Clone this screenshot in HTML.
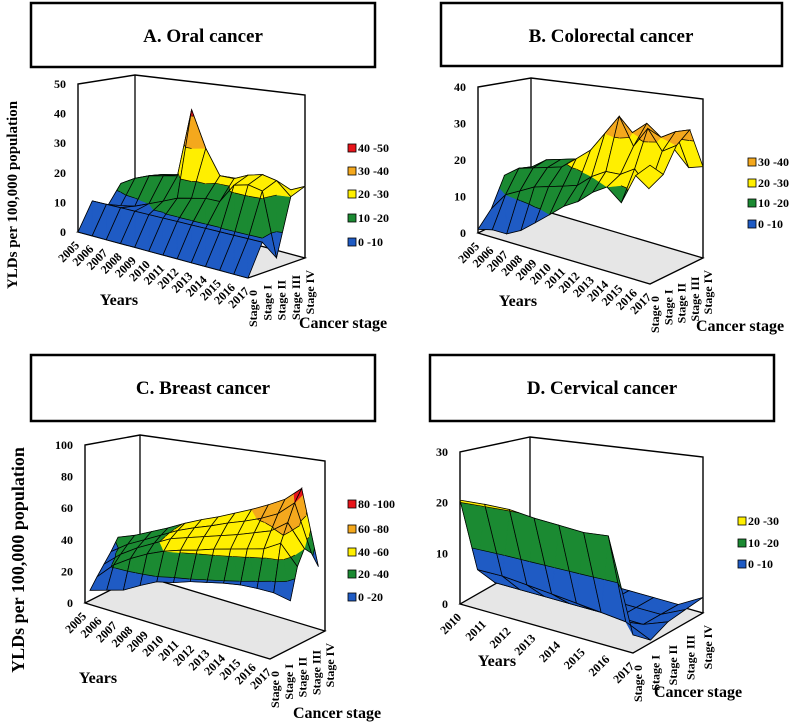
<!DOCTYPE html>
<html><head><meta charset="utf-8">
<style>
html,body{margin:0;padding:0;background:#fff;}
svg{display:block;font-family:"Liberation Serif",serif;font-weight:bold;}
</style></head>
<body>
<svg id="fig" width="789" height="722" viewBox="0 0 789 722" xmlns="http://www.w3.org/2000/svg">
  <rect x="31" y="3" width="344" height="64" fill="#fff" stroke="#000" stroke-width="2.5"/>
  <text x="203" y="42" font-size="19" text-anchor="middle">A.  Oral cancer</text>
  <rect x="441" y="3" width="341" height="63" fill="#fff" stroke="#000" stroke-width="2.5"/>
  <text x="611" y="42" font-size="19" text-anchor="middle">B. Colorectal cancer</text>
  <rect x="31" y="355" width="344" height="66" fill="#fff" stroke="#000" stroke-width="2.5"/>
  <text x="203" y="394" font-size="19" text-anchor="middle">C. Breast cancer</text>
  <rect x="430" y="355" width="344" height="66" fill="#fff" stroke="#000" stroke-width="2.5"/>
  <text x="602" y="394" font-size="19" text-anchor="middle">D. Cervical cancer</text>
  <text transform="translate(17,195) rotate(-90)" font-size="15" text-anchor="middle">YLDs per 100,000 population</text>
  <text transform="translate(24,560) rotate(-90)" font-size="18" text-anchor="middle">YLDs per 100,000 population</text>
</svg>
<script>
const yearsFull = ["2005","2006","2007","2008","2009","2010","2011","2012","2013","2014","2015","2016","2017"];
const yearsCervical = ["2010","2011","2012","2013","2014","2015","2016","2017"];
const stageLabels = ["Stage 0","Stage I","Stage II","Stage III","Stage IV"];

// values[stage][year]
const oralValues = [
  [0,0,0,0,0,0,0,0,0,0,0,0,0],
  [9,9,9,9,9,9,9,9,9,9,9,9,9],
  [5,7,8,10,12,14,15,16,16,22,23,22,3],
  [12,15,17,18,19,42,30,22,22,24,25,24,20],
  [10,14,16,17,18,19,19,20,20,20,21,20,22]
];
const colorectalValues = [
  [1,2,2,4,7,10,13,15,18,20,17,24,27],
  [5,10,12,14,15,16,17,20,22,22,24,20,24],
  [13,16,17,18,19,22,25,30,35,28,33,28,30],
  [10,15,18,19,20,21,24,28,30,33,30,32,33],
  [2,8,12,14,15,16,18,20,22,24,26,22,23]
];
const breastValues = [
  [3,4,5,11,16,16,18,18,18,17,14,10,2],
  [8,22,30,36,40,42,43,45,46,47,48,55,30],
  [12,24,32,38,44,46,48,50,52,55,58,68,40],
  [16,25,31,37,43,47,50,54,57,61,67,80,25],
  [22,25,30,35,41,46,50,55,60,66,73,86,0]
];
const cervicalValues = [
  [20.5,20.5,20.3,19.5,19,18.5,18.7,3],
  [5,5,4.5,4,3.5,3,2.5,0.5],
  [0.3,0.3,0.3,0.3,0.3,0.3,0.3,2],
  [0.3,0.3,0.3,0.3,0.3,0.3,0.3,2.5],
  [0.3,0.3,0.3,0.3,0.3,0.3,0.3,3]
];
const oralBands = ["0 -10","10 -20","20 -30","30 -40","40 -50"];
const colorectalBands = ["0 -10","10 -20","20 -30","30 -40"];
const breastBands = ["0 -20","20 -40","40 -60","60 -80","80 -100"];
const cervicalBands = ["0 -10","10 -20","20 -30"];
const oralTicks = [0,10,20,30,40,50];
const colorectalTicks = [0,10,20,30,40];
const breastTicks = [0,20,40,60,80,100];
const cervicalTicks = [0,10,20,30];

const COLORS = ["#1f5bc4","#1b8a32","#ffef00","#f4a81d","#e8141a"];
const NS = "http://www.w3.org/2000/svg";
const svg = document.getElementById('fig');
function mk(tag, attrs, parent){const e=document.createElementNS(NS,tag);for(const k in attrs)e.setAttribute(k,attrs[k]);(parent||svg).appendChild(e);return e;}

function clip(poly,t,above){const out=[];for(let k=0;k<poly.length;k++){const a=poly[k],b=poly[(k+1)%poly.length];const ia=above?a[2]>=t:a[2]<=t;const ib=above?b[2]>=t:b[2]<=t;if(ia)out.push(a);if(ia!==ib){const u=(t-a[2])/(b[2]-a[2]);out.push([a[0]+u*(b[0]-a[0]),a[1]+u*(b[1]-a[1]),t]);}}return out;}

function drawPanel(cfg){
  const g = mk('g',{});
  
  
  const n = cfg.years.length, ns = 5;
  const yv=[(cfg.yEnd[0]-cfg.O[0])/(n-1),(cfg.yEnd[1]-cfg.O[1])/(n-1)];
  const sv=[cfg.sVec[0]/(ns-1),cfg.sVec[1]/(ns-1)];
  const P=(i,s,z)=>{const zk=(cfg.zpx+cfg.pa*i/(n-1)-cfg.pb*s/4)/cfg.zmax;
    return [cfg.O[0]+i*yv[0]+s*sv[0], cfg.O[1]+i*yv[1]+s*sv[1]-z*zk];};
  const S = cfg.surf ? (i,s,z)=>[cfg.surf.O[0]+i*cfg.surf.dy[0]+s*cfg.surf.ds[0], cfg.surf.O[1]+i*cfg.surf.dy[1]+s*cfg.surf.ds[1]-z*cfg.surf.k] : P;
  const pts=a=>a.map(p=>p[0].toFixed(1)+','+p[1].toFixed(1)).join(' ');
  const floor = mk('polygon',{points:pts([P(0,0,0),P(n-1,0,0),P(n-1,4,0),P(0,4,0)]),fill:'#e6e6e6',stroke:'#000','stroke-width':1.3},g);
  
  
  const wall = mk('polyline',{points:pts([P(0,0,0),P(0,0,cfg.zmax),P(0,4,cfg.zmax),P(n-1,4,cfg.zmax),P(n-1,4,0)]),fill:'none',stroke:'#000','stroke-width':1.4},g);
  
  
  const bl = mk('line',{x1:P(0,4,0)[0],y1:P(0,4,0)[1],x2:P(0,4,cfg.zmax)[0],y2:P(0,4,cfg.zmax)[1],stroke:'#000','stroke-width':1.3},g);
  
  
  cfg.ticks.forEach(t=>{const p=P(0,0,t);const tx=mk('text',{x:p[0]-12,y:p[1]+4,'font-size':12,'text-anchor':'end'},g);tx.textContent=t;
    
    });
  const th = cfg.bands.map((b,k)=>k*cfg.bandStep);
  const V = cfg.values;
  const surf = mk('g',{},g);
  
  
  for(let s=ns-2;s>=0;s--){
    for(let i=0;i<n-1;i++){
      const a=[i,s,V[s][i]],b=[i+1,s,V[s][i+1]],c=[i+1,s+1,V[s+1][i+1]],d=[i,s+1,V[s+1][i]];
      const tris=[[d,c,b],[a,d,b]];
      tris.forEach(tri=>{
        for(let k=0;k<cfg.bands.length;k++){
          let poly=clip(tri,th[k],true);
          if(k<cfg.bands.length-1) poly=clip(poly,th[k]+cfg.bandStep,false);
          if(poly.length>=3){
            const pp=mk('polygon',{points:pts(poly.map(q=>S(q[0],q[1],q[2]))),fill:COLORS[k],stroke:COLORS[k],'stroke-width':0.6,'stroke-linejoin':'round'},surf);
            
            
          }
        }
        for(let k=1;k<cfg.bands.length;k++){
          const t=th[k];const cr=[];
          for(let e=0;e<3;e++){const p=tri[e],q=tri[(e+1)%3];if((p[2]-t)*(q[2]-t)<0){const u=(t-p[2])/(q[2]-p[2]);cr.push([p[0]+u*(q[0]-p[0]),p[1]+u*(q[1]-p[1]),t]);}}
          if(cr.length===2){const p1=S(...cr[0]),p2=S(...cr[1]);const ln=mk('line',{x1:p1[0],y1:p1[1],x2:p2[0],y2:p2[1],stroke:'#000','stroke-width':0.7},surf);
            
            }
        }
      });
      const ol=mk('polygon',{points:pts([a,b,c,d].map(q=>S(q[0],q[1],q[2]))),fill:'none',stroke:'#000','stroke-width':0.8},surf);
      
      
    }
  }
  cfg.years.forEach((y,i)=>{const p=P(i,0,0);const tx=mk('text',{transform:`translate(${(p[0]+2).toFixed(1)},${(p[1]+14).toFixed(1)}) rotate(-45)`,'font-size':12,'text-anchor':'end'},g);tx.textContent=y;
    
    });
  stageLabels.forEach((st,s)=>{const p=P(n-1,s,0);const tx=mk('text',{transform:`translate(${(p[0]+9).toFixed(1)},${(p[1]+12).toFixed(1)}) rotate(-90)`,'font-size':12,'text-anchor':'end'},g);tx.textContent=st;
    
    });
  const yl=mk('text',{x:cfg.yearsLbl[0],y:cfg.yearsLbl[1],'font-size':16,'text-anchor':'middle'},g);yl.textContent='Years';
  
  
  const cl=mk('text',{x:cfg.stageLbl[0],y:cfg.stageLbl[1],'font-size':16,'text-anchor':'middle'},g);cl.textContent='Cancer stage';
  
  
  const L = cfg.bands.length;
  for(let k=L-1;k>=0;k--){const yy=cfg.legY[L-1-k];
    const r=mk('rect',{x:cfg.legX,y:yy-8,width:8,height:8,fill:COLORS[k],stroke:'#000','stroke-width':0.8},g);
    
    
    const tx=mk('text',{x:cfg.legX+10,y:yy,'font-size':12},g);tx.textContent=cfg.bands[k];
    
    }
}

drawPanel({name:'oral-chart',years:yearsFull,values:oralValues,bands:oralBands,bandStep:10,ticks:oralTicks,zmax:50,zpx:148,pa:26,pb:11,
  O:[78,232],yEnd:[248,278],sVec:[57,-20],yearsLbl:[119,305],stageLbl:[343,328],legX:348,legY:[152,175,198,222,246]});
drawPanel({name:'colorectal-chart',years:yearsFull,values:colorectalValues,bands:colorectalBands,bandStep:10,ticks:colorectalTicks,zmax:40,zpx:146,pa:30,pb:17,
  O:[478,233],yEnd:[650,284],sVec:[53,-26],yearsLbl:[518,306],stageLbl:[740,331],legX:748,legY:[166,187,207,228]});
drawPanel({name:'breast-chart',years:yearsFull,values:breastValues,bands:breastBands,bandStep:20,ticks:breastTicks,zmax:100,zpx:158,pa:30,pb:18,
  O:[85,603],yEnd:[270,659],sVec:[55,-28],surf:{O:[90,593],dy:[16.7,0.8],ds:[7,-9],k:0.9},
  yearsLbl:[98,683],stageLbl:[337,718],legX:348,legY:[508,533,556,578,601]});
drawPanel({name:'cervical-chart',years:yearsCervical,values:cervicalValues,bands:cervicalBands,bandStep:10,ticks:cervicalTicks,zmax:30,zpx:152,pa:29,pb:25,
  O:[460,604],yEnd:[633,653],sVec:[70,-40],yearsLbl:[497,666],stageLbl:[698,697],legX:738,legY:[525,547,568]});
</script>
</body></html>
